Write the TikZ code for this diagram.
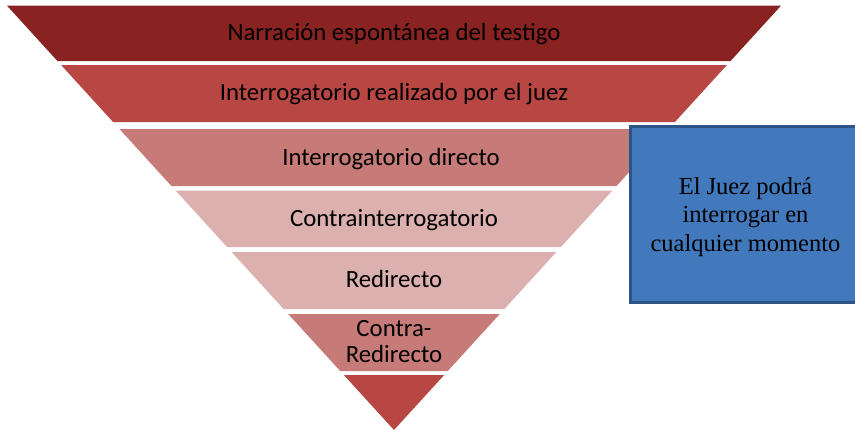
\documentclass[tikz,border=0pt]{standalone}
\usepackage{fontspec}
\setmainfont{Carlito}
\newfontfamily\boxfont{Liberation Serif}
\definecolor{bandA}{RGB}{137,35,33}
\definecolor{bandB}{RGB}{184,71,68}
\definecolor{bandC}{RGB}{199,123,121}
\definecolor{bandD}{RGB}{219,176,174}
\definecolor{judgefill}{RGB}{66,121,189}
\definecolor{judgeline}{RGB}{43,84,135}
\newcommand\pyrband[3]{% ytop, ybot, colour
  \pgfmathsetmacro\hwt{(430-#1)*0.9121}
  \pgfmathsetmacro\hwb{(430-#2)*0.9121}
  \fill[#3] ({394-\hwt},#1) -- ({394+\hwt},#1) -- ({394+\hwb},#2) -- ({394-\hwb},#2) -- cycle;
}
\tikzset{
  bandtext/.style={font=\fontsize{24.8}{26}\selectfont, text=black, inner sep=0pt, anchor=base},
  judgebox/.style={draw=judgeline, line width=3pt, fill=judgefill, minimum width=255pt, minimum height=176pt, inner sep=0pt},
  judgetext/.style={font=\boxfont\fontsize{24.5}{28.5}\selectfont, text=black, align=center, inner sep=0pt}
}
\begin{document}
\begin{tikzpicture}[x=1pt,y=-1pt]
\useasboundingbox (0,0) rectangle (855,431);
\clip (0,0) rectangle (855,431);
\fill[white] (0,0) rectangle (855,431);
\pyrband{5.7}{61}{bandA}
\pyrband{65}{122}{bandB}
\pyrband{129}{186}{bandC}
\pyrband{190.5}{247}{bandD}
\pyrband{252}{309}{bandD}
\pyrband{314}{371}{bandC}
\pyrband{375}{430}{bandB}
\node[bandtext] (b1) at (394,41) {Narración espontánea del testigo};
\node[bandtext] (b2) at (394,100.7) {Interrogatorio realizado por el juez};
\node[bandtext] (b3) at (391,165.7) {Interrogatorio directo};
\node[bandtext] (b4) at (394,226) {Contrainterrogatorio};
\node[bandtext] (b5) at (394,287.7) {Redirecto};
\node[bandtext, anchor=center, align=center] (b6) at (394,341.6) {Contra-\\Redirecto};
\node[judgebox] (judge) at (757.5,214) {};
\node[judgetext] (judgelabel) at (745.5,216.7) {El Juez podrá\\interrogar en\\cualquier momento};
\end{tikzpicture}
\end{document}
